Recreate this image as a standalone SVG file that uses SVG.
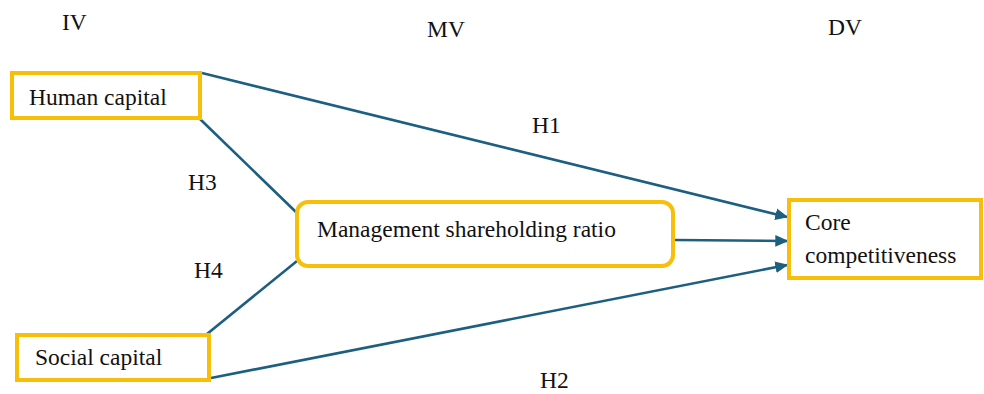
<svg xmlns="http://www.w3.org/2000/svg" width="984" height="394" viewBox="0 0 984 394">
  <style>
    .box { fill: #ffffff; stroke: #F7BE0A; stroke-width: 4; }
    .lbl { font-family: "Liberation Serif", "Times New Roman", serif; font-size: 23.5px; fill: #111111; }
    .edge { fill: none; stroke: #1C5F80; stroke-width: 2.6; }
  </style>
  <defs>
    <marker id="arrow" viewBox="0 0 10 10" refX="9" refY="5" markerWidth="5" markerHeight="5" markerUnits="strokeWidth" orient="auto">
      <path d="M0,0.5 L10,5 L0,9.5 Z" fill="#1C5F80"/>
    </marker>
  </defs>

  <rect width="984" height="394" fill="#ffffff"/>

  <!-- column headings -->
  <g id="headings">
    <text class="lbl" x="62" y="30">IV</text>
    <text class="lbl" x="427" y="37">MV</text>
    <text class="lbl" x="828" y="35">DV</text>
  </g>

  <!-- connectors -->
  <g id="connectors">
    <line class="edge" x1="202" y1="73" x2="787" y2="217" marker-end="url(#arrow)"/>
    <line class="edge" x1="675" y1="240" x2="787" y2="241" marker-end="url(#arrow)"/>
    <line class="edge" x1="211" y1="378" x2="787" y2="265" marker-end="url(#arrow)"/>
    <line class="edge" x1="200" y1="119" x2="297" y2="213"/>
    <line class="edge" x1="207" y1="334" x2="297" y2="261"/>
    <text class="lbl" x="532" y="133">H1</text>
    <text class="lbl" x="540" y="388">H2</text>
    <text class="lbl" x="188" y="190">H3</text>
    <text class="lbl" x="194" y="278">H4</text>
  </g>

  <g id="human-capital">
    <rect class="box" x="12" y="73" width="188" height="45"/>
    <text class="lbl" x="29" y="105">Human capital</text>
  </g>

  <g id="social-capital">
    <rect class="box" x="17" y="335" width="192" height="45"/>
    <text class="lbl" x="35" y="365">Social capital</text>
  </g>

  <g id="management-shareholding">
    <rect class="box" x="297" y="202" width="376" height="64" rx="11" ry="11"/>
    <text class="lbl" x="317" y="237">Management shareholding ratio</text>
  </g>

  <g id="core-competitiveness">
    <rect class="box" x="789" y="200" width="192" height="78"/>
    <text class="lbl" x="805" y="230">Core</text>
    <text class="lbl" x="805" y="263">competitiveness</text>
  </g>
</svg>
